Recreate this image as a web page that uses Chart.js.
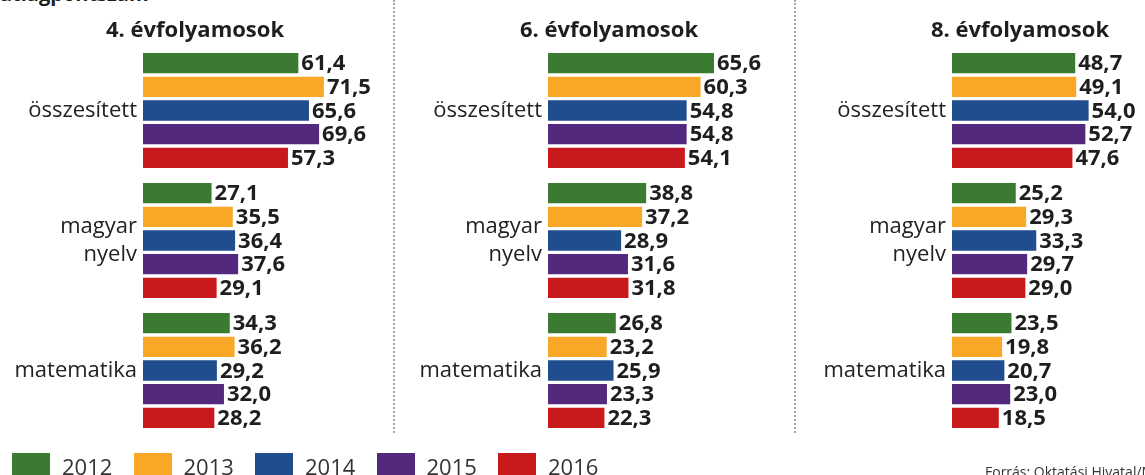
<!DOCTYPE html>
<html>
<head>
<meta charset="utf-8">
<script src="https://cdn.jsdelivr.net/npm/chart.js@4/dist/chart.umd.min.js"></script>
<style>
  html, body { margin: 0; padding: 0; background: #fff; }
  #wrap { position: relative; width: 1145px; height: 475px; overflow: hidden; background: #fff; font-family: "Open Sans", sans-serif; color: #2a2a2a; }
  canvas { position: absolute; top: 0; }
  .title { position: absolute; top: 14.5px; font: bold 22px/26px "Open Sans", sans-serif; color: #1e1e1e; transform: translateX(-50%); white-space: nowrap; }
  .sep { position: absolute; top: 0; height: 433px; width: 0; border-left: 2px dotted #a8a8a8; }
  #head { position: absolute; left: 0; top: -16px; font: bold 20px/20px "Open Sans", sans-serif; color: #1e1e1e; }
  #legend { position: absolute; left: 12px; top: 453px; display: flex; }
  .li { width: 121.5px; display: flex; align-items: flex-start; }
  .sw { width: 38px; height: 24px; margin-right: 12px; }
  .lt { font: 22px/22px "Open Sans", sans-serif; color: #333; margin-top: 2.4px; }
  #src { position: absolute; left: 985px; top: 461.5px; font: 14px/20px "Open Sans", sans-serif; color: #333; white-space: nowrap; }
</style>
</head>
<body>
<div id="wrap">
  <div id="head">átlagpontszám</div>
  <canvas id="c4" width="393" height="475" style="left:0px;width:393px;height:475px"></canvas>
  <canvas id="c6" width="400" height="475" style="left:394px;width:400px;height:475px"></canvas>
  <canvas id="c8" width="349" height="475" style="left:796px;width:349px;height:475px"></canvas>
  <div class="sep" style="left:393px"></div>
  <div class="sep" style="left:794px"></div>
  <div class="title" style="left:195px">4. évfolyamosok</div>
  <div class="title" style="left:609px">6. évfolyamosok</div>
  <div class="title" style="left:1020px">8. évfolyamosok</div>
  <div id="legend"></div>
  <div id="src">Forrás: Oktatási Hivatal/MNO</div>
</div>
<script>
// ---- data ----
const CATEGORIES = ['összesített', ['magyar', 'nyelv'], 'matematika'];
const YEARS = ['2012', '2013', '2014', '2015', '2016'];
const COLORS = ['#3a7a31', '#f8a826', '#1f4d8d', '#52297c', '#c8191d'];

// values per year: [összesített, magyar nyelv, matematika]
const GRADE4_2012 = [61.4, 27.1, 34.3];
const GRADE4_2013 = [71.5, 35.5, 36.2];
const GRADE4_2014 = [65.6, 36.4, 29.2];
const GRADE4_2015 = [69.6, 37.6, 32.0];
const GRADE4_2016 = [57.3, 29.1, 28.2];

const GRADE6_2012 = [65.6, 38.8, 26.8];
const GRADE6_2013 = [60.3, 37.2, 23.2];
const GRADE6_2014 = [54.8, 28.9, 25.9];
const GRADE6_2015 = [54.8, 31.6, 23.3];
const GRADE6_2016 = [54.1, 31.8, 22.3];

const GRADE8_2012 = [48.7, 25.2, 23.5];
const GRADE8_2013 = [49.1, 29.3, 19.8];
const GRADE8_2014 = [54.0, 33.3, 20.7];
const GRADE8_2015 = [52.7, 29.7, 23.0];
const GRADE8_2016 = [47.6, 29.0, 18.5];

// ---- layout ----
const PX_PER_UNIT = 2.53;
const TOP = 45.5, BOTTOM_PAD = 39.5;

const fmt = v => v.toFixed(1).replace('.', ',');

const valueLabels = {
  id: 'valueLabels',
  afterDatasetsDraw(chart) {
    const ctx = chart.ctx;
    ctx.save();
    ctx.font = 'bold 22px "Open Sans", sans-serif';
    ctx.fillStyle = '#1e1e1e';
    ctx.textAlign = 'left';
    ctx.textBaseline = 'middle';
    chart.data.datasets.forEach((ds, i) => {
      chart.getDatasetMeta(i).data.forEach((el, j) => {
        ctx.fillText(fmt(ds.data[j]), el.x + 3, el.y + 1);
      });
    });
    ctx.restore();
  }
};

function makePanel(id, series, xMax, axisWidth) {
  const canvas = document.getElementById(id);
  const cw = canvas.width;
  const padRight = cw - axisWidth - xMax * PX_PER_UNIT;
  new Chart(canvas, {
    type: 'bar',
    data: {
      labels: CATEGORIES,
      datasets: YEARS.map((y, i) => ({
        label: y,
        data: series[i],
        backgroundColor: COLORS[i],
        borderWidth: 0,
        categoryPercentage: 0.91,
        barPercentage: 0.86
      }))
    },
    options: {
      indexAxis: 'y',
      responsive: false,
      animation: false,
      events: [],
      layout: { padding: { top: TOP, bottom: BOTTOM_PAD, left: 0, right: padRight } },
      scales: {
        x: { display: false, min: 0, max: xMax },
        y: {
          grid: { display: false, drawTicks: false },
          border: { display: false },
          ticks: {
            padding: 6,
            color: '#222222',
            font: { family: '"Open Sans", sans-serif', size: 22, lineHeight: 1.27 }
          },
          afterFit(scale) { scale.width = axisWidth; }
        }
      },
      plugins: { legend: { display: false }, tooltip: { enabled: false }, title: { display: false } }
    },
    plugins: [valueLabels]
  });
}

makePanel('c4', [GRADE4_2012, GRADE4_2013, GRADE4_2014, GRADE4_2015, GRADE4_2016], 90, 143);
makePanel('c6', [GRADE6_2012, GRADE6_2013, GRADE6_2014, GRADE6_2015, GRADE6_2016], 90, 154);
makePanel('c8', [GRADE8_2012, GRADE8_2013, GRADE8_2014, GRADE8_2015, GRADE8_2016], 70, 156);

// legend built from the series names and colours
const legend = document.getElementById('legend');
YEARS.forEach((y, i) => {
  const item = document.createElement('div');
  item.className = 'li';
  const sw = document.createElement('div');
  sw.className = 'sw';
  sw.style.background = COLORS[i];
  const t = document.createElement('div');
  t.className = 'lt';
  t.textContent = y;
  item.appendChild(sw);
  item.appendChild(t);
  legend.appendChild(item);
});
</script>
</body>
</html>
